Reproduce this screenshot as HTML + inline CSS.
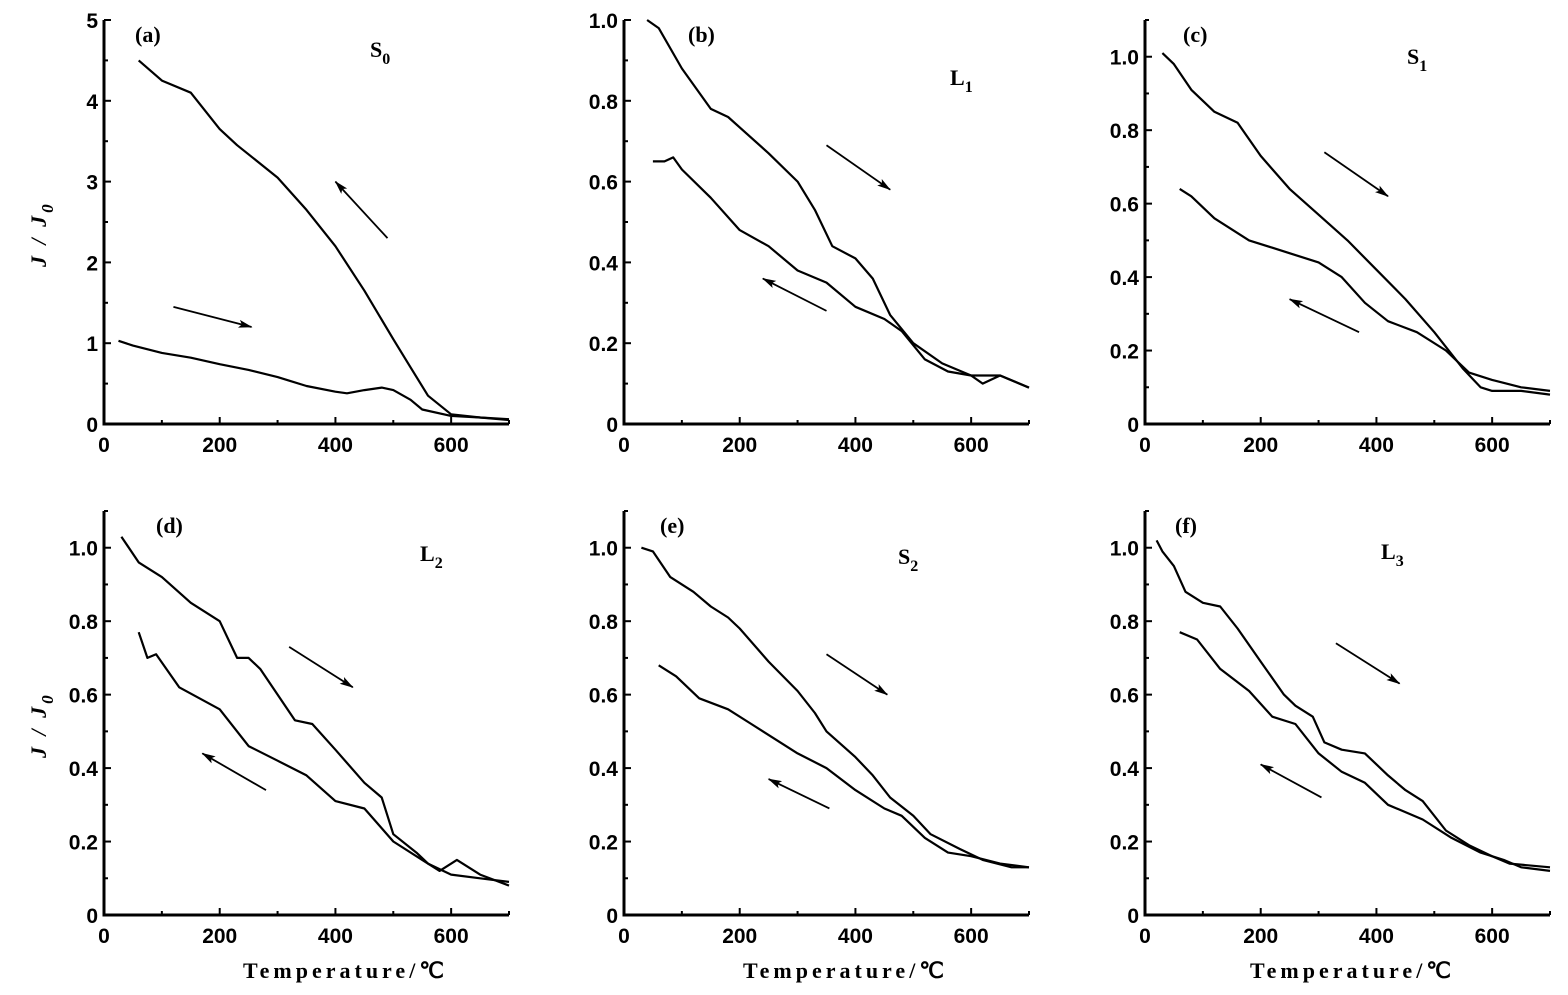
<!DOCTYPE html>
<html><head><meta charset="utf-8">
<style>
body{margin:0;background:#fff;}
svg{display:block;}
.tk{font-family:"Liberation Sans",sans-serif;font-weight:bold;font-size:21px;fill:#000;}
.lab{font-family:"Liberation Serif",serif;font-weight:bold;font-size:22px;fill:#000;}
</style></head>
<body>
<svg id="fig" width="1568" height="995" viewBox="0 0 1568 995" xmlns="http://www.w3.org/2000/svg"></svg>
<script>
const panelIds = ["a","b","c","d","e","f"];
const panelNames = ["S","L","S","L","S","L"];
const panelSubs = ["0","1","1","2","2","3"];
const yMaxes = [5,1.0,1.1,1.1,1.1,1.1];
const heatA = [[25,1.03],[50,0.97],[100,0.88],[150,0.82],[200,0.74],[250,0.67],[300,0.58],[350,0.47],[400,0.40],[420,0.38],[450,0.42],[480,0.45],[500,0.42],[530,0.3],[550,0.18],[600,0.1],[650,0.08],[700,0.05]];
const coolA = [[60,4.5],[100,4.25],[150,4.1],[200,3.65],[230,3.45],[300,3.05],[350,2.65],[400,2.2],[450,1.65],[500,1.05],[530,0.7],[560,0.35],[600,0.12],[650,0.08],[700,0.06]];
const heatB = [[40,1.0],[60,0.98],[100,0.88],[150,0.78],[180,0.76],[250,0.67],[300,0.6],[330,0.53],[360,0.44],[400,0.41],[430,0.36],[460,0.27],[500,0.2],[550,0.15],[600,0.12],[620,0.10],[650,0.12],[700,0.09]];
const coolB = [[50,0.65],[70,0.65],[85,0.66],[100,0.63],[150,0.56],[200,0.48],[250,0.44],[300,0.38],[350,0.35],[400,0.29],[450,0.26],[480,0.23],[520,0.16],[560,0.13],[600,0.12],[650,0.12],[700,0.09]];
const heatC = [[30,1.01],[50,0.98],[80,0.91],[120,0.85],[160,0.82],[200,0.73],[250,0.64],[300,0.57],[350,0.5],[400,0.42],[450,0.34],[500,0.25],[550,0.15],[580,0.1],[600,0.09],[650,0.09],[700,0.08]];
const coolC = [[60,0.64],[80,0.62],[120,0.56],[180,0.5],[220,0.48],[260,0.46],[300,0.44],[340,0.4],[380,0.33],[420,0.28],[470,0.25],[520,0.2],[560,0.14],[600,0.12],[650,0.1],[700,0.09]];
const heatD = [[30,1.03],[60,0.96],[100,0.92],[150,0.85],[200,0.8],[230,0.7],[250,0.7],[270,0.67],[300,0.6],[330,0.53],[360,0.52],[400,0.45],[450,0.36],[480,0.32],[500,0.22],[540,0.17],[560,0.14],[600,0.11],[650,0.1],[700,0.09]];
const coolD = [[60,0.77],[75,0.7],[90,0.71],[130,0.62],[200,0.56],[250,0.46],[300,0.42],[350,0.38],[400,0.31],[450,0.29],[500,0.2],[550,0.15],[580,0.12],[610,0.15],[650,0.11],[700,0.08]];
const heatE = [[30,1.0],[50,0.99],[80,0.92],[120,0.88],[150,0.84],[180,0.81],[200,0.78],[250,0.69],[300,0.61],[330,0.55],[350,0.5],[400,0.43],[430,0.38],[460,0.32],[500,0.27],[530,0.22],[580,0.18],[620,0.15],[670,0.13],[700,0.13]];
const coolE = [[60,0.68],[90,0.65],[130,0.59],[180,0.56],[220,0.52],[260,0.48],[300,0.44],[350,0.40],[400,0.34],[450,0.29],[480,0.27],[520,0.21],[560,0.17],[600,0.16],[650,0.14],[700,0.13]];
const heatF = [[20,1.02],[30,0.99],[50,0.95],[70,0.88],[100,0.85],[130,0.84],[160,0.78],[200,0.69],[240,0.6],[260,0.57],[290,0.54],[310,0.47],[340,0.45],[380,0.44],[420,0.38],[450,0.34],[480,0.31],[520,0.23],[560,0.19],[600,0.16],[630,0.14],[700,0.13]];
const coolF = [[60,0.77],[90,0.75],[130,0.67],[180,0.61],[220,0.54],[260,0.52],[300,0.44],[340,0.39],[380,0.36],[420,0.30],[480,0.26],[530,0.21],[580,0.17],[620,0.15],[650,0.13],[700,0.12]];
const heatSeries = [heatA,heatB,heatC,heatD,heatE,heatF];
const coolSeries = [coolA,coolB,coolC,coolD,coolE,coolF];
const heatArrows = [[120,1.45,255,1.2],[350,0.69,460,0.58],[310,0.74,420,0.62],[320,0.73,430,0.62],[350,0.71,455,0.6],[330,0.74,440,0.63]];
const coolArrows = [[490,2.3,400,3.0],[350,0.28,240,0.36],[370,0.25,250,0.34],[280,0.34,170,0.44],[355,0.29,250,0.37],[305,0.32,200,0.41]];
const xTicks = [0,200,400,600];
const xMinor = [100,300,500,700];

const NS="http://www.w3.org/2000/svg";
const fig=document.getElementById('fig');
function mk(tag,attrs,parent){const e=document.createElementNS(NS,tag);for(const k in attrs)e.setAttribute(k,attrs[k]);(parent||fig).appendChild(e);return e;}
const colX=[104,624,1145];
const rowY0=[424,915];
const plotW=405, plotH=404;
const lblDX=[31,64,38,52,36,30];
const smpDX=[266,326,262,316,274,236];
const smpDY=[37,65,44,50,53,48];
const titleDX=[39,19,5];
const defs=mk('defs',{});
const mkr=mk('marker',{id:'ah',markerWidth:'14',markerHeight:'10',refX:'13',refY:'5',orient:'auto',markerUnits:'userSpaceOnUse'},defs);
mk('path',{d:'M0,1 L14,5 L0,9 L3,5 Z',fill:'#000'},mkr);

panelIds.forEach((id,i)=>{
  const x0=colX[i%3], y0=rowY0[Math.floor(i/3)], ymax=yMaxes[i];
  const sx=v=>x0+v/700*plotW;
  const sy=v=>y0-v/ymax*plotH;
  const g=mk('g',{});
  
  
  const ax=mk('path',{d:`M${x0},${y0-plotH} L${x0},${y0} L${x0+plotW},${y0}`,stroke:'#000','stroke-width':'3',fill:'none'},g);
  
  
  xTicks.forEach(t=>{
    mk('line',{x1:sx(t),x2:sx(t),y1:y0,y2:y0-7,stroke:'#000','stroke-width':'2'},g);
    const tl=mk('text',{x:sx(t),y:y0+28,'text-anchor':'middle',class:'tk'},g);
    tl.textContent=t;
    
    
  });
  xMinor.forEach(t=>mk('line',{x1:sx(t),x2:sx(t),y1:y0,y2:y0-4,stroke:'#000','stroke-width':'2'},g));
  const ystep = ymax>=5?1:0.2, yminor = ymax>=5?0.5:0.1;
  for(let v=0; v<=ymax+1e-9; v+=ystep){
    mk('line',{x1:x0,x2:x0+7,y1:sy(v),y2:sy(v),stroke:'#000','stroke-width':'2'},g);
    const tl=mk('text',{x:x0-6,y:sy(v)+8,'text-anchor':'end',class:'tk'},g);
    tl.textContent = v<1e-9 ? '0' : (ymax>=5 ? Math.round(v) : v.toFixed(1));
    
    
  }
  for(let v=yminor; v<=ymax+1e-9; v+=ystep){
    mk('line',{x1:x0,x2:x0+4,y1:sy(v),y2:sy(v),stroke:'#000','stroke-width':'2'},g);
  }
  [heatSeries[i],coolSeries[i]].forEach((s,k)=>{
    const p=mk('path',{d:s.map((q,j)=>(j?'L':'M')+sx(q[0]).toFixed(1)+','+sy(q[1]).toFixed(1)).join(' '),stroke:'#000','stroke-width':'2.2',fill:'none','stroke-linejoin':'round'},g);
    
    
  });
  [heatArrows[i],coolArrows[i]].forEach((a,k)=>{
    const l=mk('line',{x1:sx(a[0]),y1:sy(a[1]),x2:sx(a[2]),y2:sy(a[3]),stroke:'#000','stroke-width':'1.8','marker-end':'url(#ah)'},g);
    
    
  });
  const pl=mk('text',{x:x0+lblDX[i],y:y0-plotH+22,class:'lab'},g);
  pl.textContent='('+id+')';
  
  
  const sl=mk('text',{x:x0+smpDX[i],y:y0-plotH+smpDY[i],class:'lab'},g);
  sl.innerHTML=panelNames[i]+'<tspan dy="7" font-size="16">'+panelSubs[i]+'</tspan>';
  
  
  if(i%3===0){
    const yl=mk('text',{transform:`translate(46,${y0-plotH/2+45}) rotate(-90)`,class:'lab','font-style':'italic','font-size':'25','letter-spacing':'3'},g);
    yl.innerHTML='J / J<tspan dy="7" font-size="17">0</tspan>';
    
    
  }
  if(i>=3){
    const xl=mk('text',{x:x0+plotW/2+titleDX[i%3],y:978,'text-anchor':'middle',class:'lab','font-size':'24','letter-spacing':'4','font-family':'"Liberation Serif","Noto Serif CJK SC",serif'},g);
    xl.textContent='Temperature/℃';
    
    
  }
});
</script>
</body></html>
